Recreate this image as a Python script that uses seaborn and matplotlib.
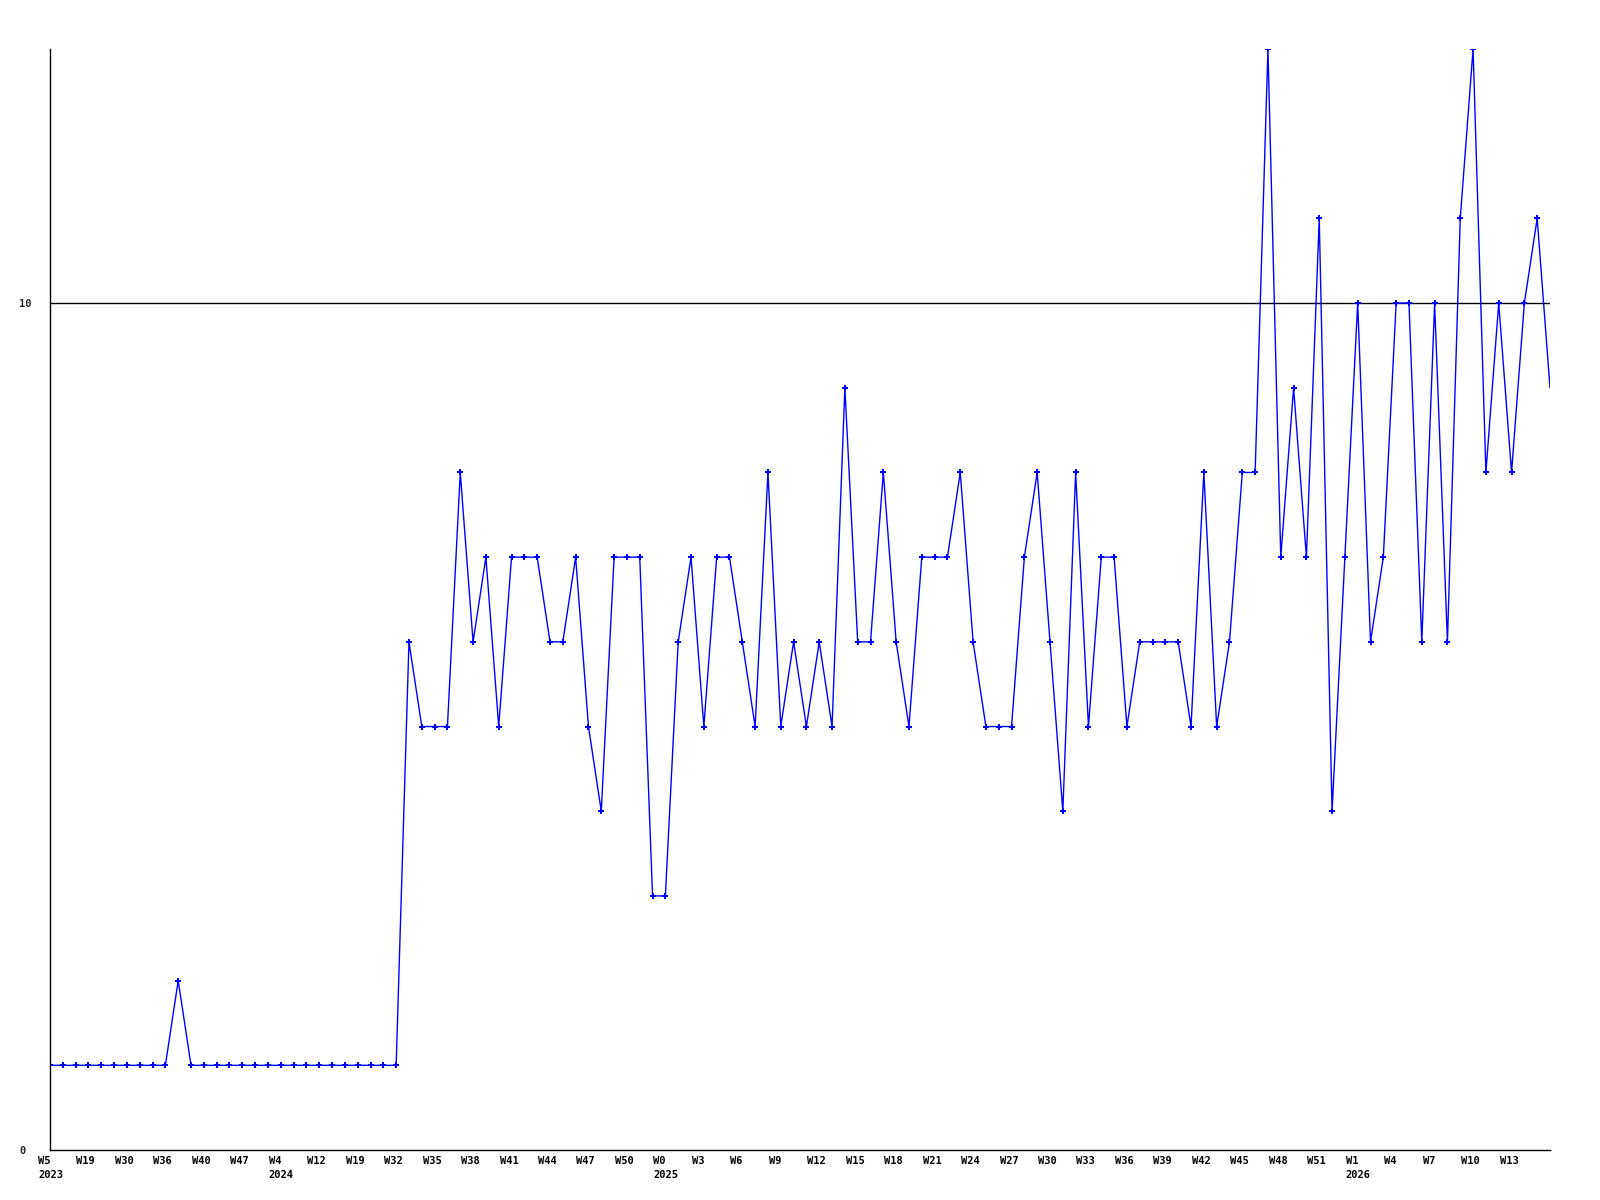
import matplotlib
matplotlib.use("Agg")
import matplotlib.pyplot as plt
import matplotlib.transforms as mtransforms
import pandas as pd
import seaborn as sns

# weekly counts, oldest first (last point = current week, drawn without marker)
counts = [1] * 10 + [2] + [1] * 17 + [
    6, 5, 5, 5, 8, 6, 7, 5, 7, 7,
    7, 6, 6, 7, 5, 4, 7, 7, 7, 3,
    3, 6, 7, 5, 7, 7, 6, 5, 8, 5,
    6, 5, 6, 5, 9, 6, 6, 8, 6, 5,
    7, 7, 7, 8, 6, 5, 5, 5, 7, 8,
    6, 4, 8, 5, 7, 7, 5, 6, 6, 6,
    6, 5, 8, 5, 6, 8, 8, 13, 7, 9,
    7, 11, 4, 7, 10, 6, 7, 10, 10, 6,
    10, 6, 11, 13, 8, 10, 8, 10, 11, 9,
]

# labels shown under every third point
week_labels = [
    "W5", "W19", "W30", "W36", "W40", "W47", "W4", "W12", "W19", "W32",
    "W35", "W38", "W41", "W44", "W47", "W50", "W0", "W3", "W6", "W9",
    "W12", "W15", "W18", "W21", "W24", "W27", "W30", "W33", "W36", "W39",
    "W42", "W45", "W48", "W51", "W1", "W4", "W7", "W10", "W13",
]
year_labels = {0: "2023", 6: "2024", 16: "2025", 34: "2026"}  # label slot -> year

y_ticks = [0, 10]

df = pd.DataFrame({"week": range(len(counts)), "count": counts})

sns.set_style("white")
plt.rcParams["font.family"] = ["DejaVu Sans Mono", "DejaVu Sans"]

fig = plt.figure(figsize=(16, 12), dpi=100)
ax = fig.add_axes([50 / 1600, 1 - 1150 / 1200, 1500 / 1600, 1101 / 1200])

sns.lineplot(data=df, x="week", y="count", ax=ax, color="#0000ff",
             linewidth=1.0, marker="P", markersize=5, markeredgewidth=0,
             markevery=list(range(len(counts) - 1)))

ax.axhline(10, color="black", linewidth=1.0, zorder=0)

ax.set_xlim(0, len(counts) - 1)
ax.set_ylim(0, 13)
ax.set_xlabel("")
ax.set_ylabel("")

for side in ["top", "right"]:
    ax.spines[side].set_visible(False)
for side in ["left", "bottom"]:
    ax.spines[side].set_color("black")
    ax.spines[side].set_linewidth(1.0)

# x labels drawn as text so they can sit a little left of each point
ticks = [3 * i for i in range(len(week_labels))]
ax.set_xticks(ticks)
ax.set_xticklabels([])
trans = ax.get_xaxis_transform() + mtransforms.ScaledTranslation(-12 / 100, -6 / 100, fig.dpi_scale_trans)
for i, (t, w) in enumerate(zip(ticks, week_labels)):
    txt = w + "\n" + year_labels[i] if i in year_labels else w
    ax.text(t, 0, txt, transform=trans, ha="left", va="top", fontsize=7.5,
            fontweight="bold", linespacing=1.5, color="black")

ax.set_yticks(y_ticks)
ax.set_yticklabels([str(v) for v in y_ticks], fontsize=7.5, fontweight="bold", ha="left")
ax.tick_params(axis="x", length=0)
ax.tick_params(axis="y", length=0, pad=22)

fig.savefig("out.png", dpi=100)
